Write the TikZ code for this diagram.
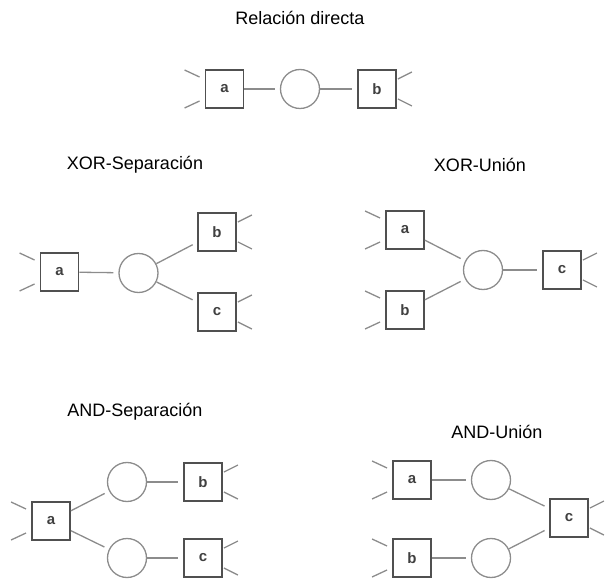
\documentclass[tikz,border=0pt]{standalone}
\usepackage{fontspec}
\setmainfont{Liberation Sans}
\definecolor{boxline}{HTML}{505050}
\definecolor{arcline}{HTML}{8C8C8C}
\definecolor{lbl}{HTML}{404040}
\tikzset{
  act/.style={draw=boxline, line width=1.9pt, minimum size=38pt, inner sep=0pt,
              font=\fontsize{15}{15}\selectfont\bfseries, text=lbl},
  conn/.style={draw=arcline, line width=1.3pt, circle, minimum size=39pt, inner sep=0pt},
  link/.style={draw=arcline, line width=1.3pt, shorten >=5pt},
  stub/.style={draw=arcline, line width=1.3pt},
  ttl/.style={font=\fontsize{18}{18}\selectfont, text=black}
}
% short ticks on the free side of an activity box
\newcommand{\instubs}[1]{%
  \draw[stub] ([shift={(-5,-12)}]#1.west) -- ++(-15,-7);
  \draw[stub] ([shift={(-5,12)}]#1.west) -- ++(-15,7);}
\newcommand{\outstubs}[1]{%
  \draw[stub] ([shift={(1,-10)}]#1.east) -- ++(14,-7);
  \draw[stub] ([shift={(1,10)}]#1.east) -- ++(14,7);}
\begin{document}
\begin{tikzpicture}[x=1pt,y=-1pt]
\useasboundingbox (0,0) rectangle (605,585);

% Relación directa
\node[ttl] (t1) at (300,18) {Relación directa};
\node[act] (d-a) at (224.5,89) {a};
\node[conn] (d-o) at (300,89) {};
\node[act] (d-b) at (377,89) {b};
\draw[link] (d-a) -- (d-o);
\draw[link] (d-o) -- (d-b);
\instubs{d-a}
\outstubs{d-b}

% XOR-Separación
\node[ttl] (t2) at (135,165) {XOR-Separación};
\node[act] (xs-a) at (59.5,272) {a};
\node[conn] (xs-o) at (138.5,273) {};
\node[act] (xs-b) at (217,232) {b};
\node[act] (xs-c) at (217,312) {c};
\draw[link] (xs-a) -- (xs-o);
\draw[link] (xs-o) -- (xs-b);
\draw[link] (xs-o) -- (xs-c);
\instubs{xs-a}
\outstubs{xs-b}
\outstubs{xs-c}

% XOR-Unión
\node[ttl] (t3) at (480,165) {XOR-Unión};
\node[act] (xu-a) at (405,230) {a};
\node[act] (xu-b) at (405,310) {b};
\node[conn] (xu-o) at (483,270) {};
\node[act] (xu-c) at (562,270) {c};
\draw[link] (xu-a) -- (xu-o);
\draw[link] (xu-b) -- (xu-o);
\draw[link] (xu-o) -- (xu-c);
\instubs{xu-a}
\instubs{xu-b}
\outstubs{xu-c}

% AND-Separación
\node[ttl] (t4) at (135,412) {AND-Separación};
\node[act] (as-a) at (51,521) {a};
\node[conn] (as-o1) at (127,482) {};
\node[conn] (as-o2) at (127,558) {};
\node[act] (as-b) at (203,482) {b};
\node[act] (as-c) at (203,558) {c};
\draw[link] (as-a) -- (as-o1);
\draw[link] (as-a) -- (as-o2);
\draw[link] (as-o1) -- (as-b);
\draw[link] (as-o2) -- (as-c);
\instubs{as-a}
\outstubs{as-b}
\outstubs{as-c}

% AND-Unión
\node[ttl] (t5) at (497,432) {AND-Unión};
\node[act] (au-a) at (412,480) {a};
\node[act] (au-b) at (412,558) {b};
\node[conn] (au-o1) at (491,480) {};
\node[conn] (au-o2) at (491,558) {};
\node[act] (au-c) at (569,518) {c};
\draw[link] (au-a) -- (au-o1);
\draw[link] (au-b) -- (au-o2);
\draw[link] (au-o1) -- (au-c);
\draw[link] (au-o2) -- (au-c);
\instubs{au-a}
\instubs{au-b}
\outstubs{au-c}
\end{tikzpicture}
\end{document}
